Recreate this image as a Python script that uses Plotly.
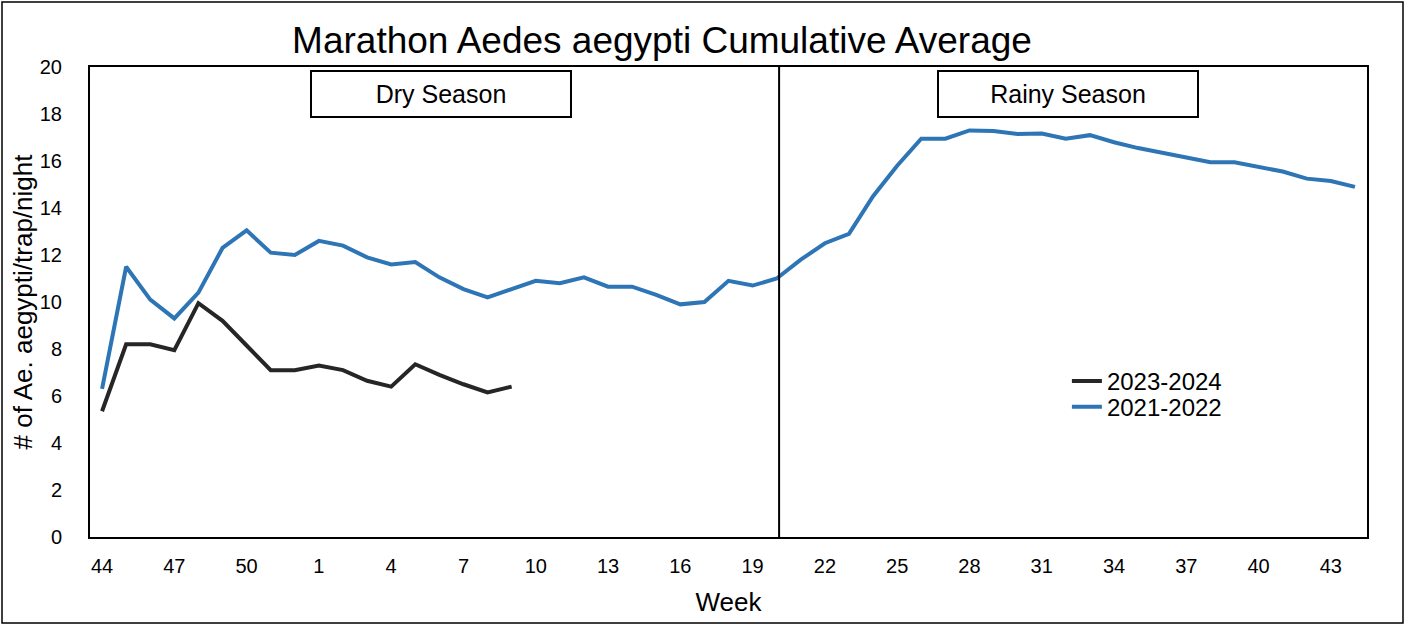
import plotly.graph_objects as go

# week labels: 44..52 of the first year, then 1..44
weeks = [str(w) for w in range(44, 53)] + [str(w) for w in range(1, 45)]

avg_2021_2022 = [
    6.3, 11.5, 10.1, 9.3, 10.4, 12.3, 13.05, 12.1, 12.0,
    12.6, 12.4, 11.9, 11.6, 11.7, 11.05, 10.55, 10.2, 10.55, 10.9,
    10.8, 11.05, 10.65, 10.65, 10.3, 9.9, 10.0, 10.9, 10.7, 11.0,
    11.8, 12.5, 12.9, 14.5, 15.8, 16.95, 16.95, 17.3, 17.28, 17.15,
    17.17, 16.95, 17.1, 16.8, 16.55, 16.35, 16.15, 15.95, 15.95, 15.75,
    15.55, 15.25, 15.15, 14.9,
]
avg_2023_2024 = [
    5.35, 8.2, 8.2, 7.95, 9.95, 9.2, 8.15, 7.1, 7.1,
    7.3, 7.1, 6.65, 6.4, 7.35, 6.9, 6.5, 6.15, 6.4,
]

FONT = "Liberation Sans, Arial, sans-serif"

# weeks repeat (44 shows up twice), so plot against position and label the ticks
pos = list(range(len(weeks)))

fig = go.Figure()
fig.add_trace(go.Scatter(
    x=pos[:len(avg_2023_2024)], y=avg_2023_2024, mode="lines",
    name="2023-2024", line=dict(color="#262626", width=4), legend="legend",
))
fig.add_trace(go.Scatter(
    x=pos, y=avg_2021_2022, mode="lines",
    name="2021-2022", line=dict(color="#2E75B6", width=4), legend="legend2",
))

# season divider, just past week 20
fig.add_shape(type="line", xref="x", yref="paper", x0=28.1, x1=28.1, y0=0, y1=1,
              line=dict(color="black", width=2))

W, H = 1405, 625
ml, mr, mt, mb = 90, 38, 67, 88
pw, ph = W - ml - mr, H - mt - mb

# outer frame of the whole picture
fig.add_shape(type="rect", xref="paper", yref="paper",
              x0=-(ml - 2) / pw, x1=1 + (mr - 2) / pw,
              y0=-(mb - 2) / ph, y1=1 + (mt - 2) / ph,
              line=dict(color="black", width=1.5))

for label, x0, x1 in [("Dry Season", 311, 571), ("Rainy Season", 938, 1198)]:
    fig.add_annotation(
        text=label, xref="paper", yref="paper",
        x=((x0 + x1) / 2 - ml) / pw, y=1 - (94 - mt) / ph,
        showarrow=False, font=dict(size=25, color="black", family=FONT),
        width=x1 - x0 - 4, height=42, bordercolor="black", borderwidth=2,
        bgcolor="white", xanchor="center", yanchor="middle",
    )

legend_style = dict(x=0.765, xanchor="left", yanchor="top",
                    bgcolor="rgba(0,0,0,0)", font=dict(size=24), itemwidth=30)

fig.update_layout(
    width=W, height=H,
    margin=dict(l=ml, r=mr, t=mt, b=mb),
    paper_bgcolor="white", plot_bgcolor="white",
    font=dict(family=FONT, color="black", size=20),
    title=dict(text="Marathon Aedes aegypti Cumulative Average",
               x=662 / W, xanchor="center", xref="container",
               y=1 - 40 / H, yanchor="middle", yref="container",
               font=dict(size=37)),
    xaxis=dict(tickmode="array", tickvals=pos[::3], ticktext=weeks[::3],
               range=[-0.5, len(weeks) - 0.5], showgrid=False, zeroline=False,
               showline=True, mirror=True, linecolor="black", linewidth=2,
               ticks="", ticklabelstandoff=10,
               title=dict(text="Week", standoff=17, font=dict(size=26))),
    yaxis=dict(range=[0, 20], dtick=2, showgrid=False, zeroline=False,
               showline=True, mirror=True, linecolor="black", linewidth=2,
               ticks="", ticklabelstandoff=22,
               title=dict(text="# of Ae. aegypti/trap/night", standoff=0,
                          font=dict(size=26))),
    legend=dict(y=0.379, **legend_style),
    legend2=dict(y=0.324, **legend_style),
    showlegend=True,
)

# the page's default 8px body margin would shift everything
fig.write_html("out.html", config={"displayModeBar": False},
               post_script="document.body.style.margin='0';")
